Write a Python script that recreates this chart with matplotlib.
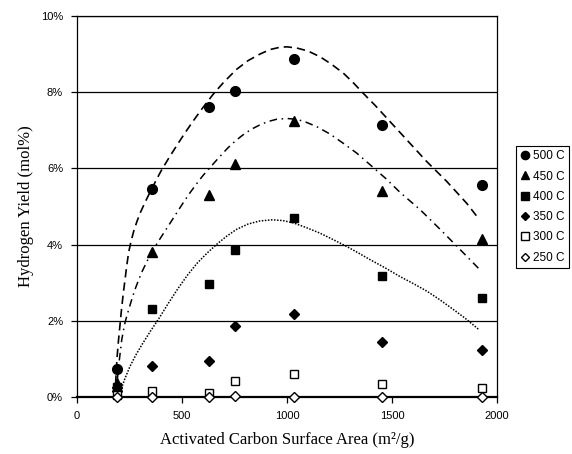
import matplotlib
matplotlib.use("Agg")
import matplotlib.pyplot as plt
from matplotlib.ticker import FuncFormatter, MultipleLocator

# surface area of the carbon samples (m2/g)
surface_area = [190, 358, 627, 752, 1033, 1452, 1930]

# hydrogen yield (mol%) per reactor temperature
yield_500 = [0.73, 5.45, 7.62, 8.04, 8.87, 7.13, 5.56]
yield_450 = [0.36, 3.81, 5.30, 6.12, 7.25, 5.41, 4.15]
yield_400 = [0.25, 2.30, 2.96, 3.86, 4.69, 3.18, 2.61]
yield_350 = [0.15, 0.82, 0.95, 1.86, 2.17, 1.44, 1.23]
yield_300 = [0.05, 0.16, 0.11, 0.43, 0.60, 0.33, 0.23]
yield_250 = [0.00, 0.00, 0.00, 0.02, 0.01, 0.00, 0.00]

# fitted trend curves
trend_500_x = [181, 186, 191, 197, 204, 212, 220, 228, 237, 246, 258, 270, 285, 300,
               325, 350, 375, 400, 437, 475, 514, 554, 600, 649, 700, 760, 815, 871,
               920, 967, 1000, 1046, 1100, 1157, 1210, 1268, 1315, 1363, 1420, 1475,
               1570, 1665, 1760, 1856, 1911]
trend_500_y = [0.0, 0.6, 1.05, 1.45, 1.85, 2.3, 2.7, 3.05, 3.45, 3.8, 4.1, 4.35,
               4.6, 4.82, 5.12, 5.4, 5.67, 5.93, 6.27, 6.6, 6.93, 7.25, 7.6, 7.95,
               8.27, 8.6, 8.83, 9.0, 9.12, 9.18, 9.19, 9.16, 9.08, 8.93, 8.74, 8.50,
               8.25, 7.97, 7.65, 7.32, 6.75, 6.18, 5.66, 5.08, 4.69]
trend_450_x = [189, 193, 200, 207, 213, 221, 229, 240, 252, 264, 276, 292, 308, 328,
               348, 372, 395, 422, 450, 478, 506, 538, 570, 601, 633, 662, 690, 717,
               744, 772, 800, 835, 870, 910, 951, 999, 1040, 1078, 1140, 1205, 1270,
               1332, 1411, 1475, 1538, 1633, 1729, 1824, 1911]
trend_450_y = [0.0, 0.5, 0.9, 1.22, 1.5, 1.74, 1.96, 2.18, 2.4, 2.62, 2.82, 3.05,
               3.27, 3.5, 3.72, 3.95, 4.15, 4.38, 4.62, 4.86, 5.1, 5.36, 5.6, 5.82,
               6.02, 6.2, 6.37, 6.53, 6.67, 6.8, 6.92, 7.04, 7.14, 7.23, 7.29, 7.31,
               7.29, 7.24, 7.1, 6.9, 6.65, 6.40, 6.02, 5.71, 5.37, 4.92, 4.40, 3.87,
               3.38]
trend_400_x = [193, 205, 228, 252, 280, 310, 350, 390, 435, 480, 525, 570, 620, 670,
               715, 760, 815, 870, 930, 980, 1030, 1090, 1157, 1220, 1284, 1340,
               1400, 1470, 1538, 1600, 1665, 1720, 1776, 1845, 1911]
trend_400_y = [0.0, 0.12, 0.48, 0.8, 1.1, 1.38, 1.73, 2.06, 2.46, 2.84, 3.19, 3.5,
               3.78, 4.03, 4.23, 4.40, 4.54, 4.62, 4.65, 4.63, 4.57, 4.45, 4.30,
               4.13, 3.95, 3.78, 3.59, 3.38, 3.16, 2.98, 2.78, 2.58, 2.36, 2.08, 1.78]

fig = plt.figure(figsize=(5.72, 4.54), dpi=100)
ax = fig.add_axes([0.1346, 0.1256, 0.7344, 0.8392])

# trend lines
ax.plot(trend_500_x, [v / 100 for v in trend_500_y], color="black", lw=1.2,
        linestyle=(0, (5, 3)))
ax.plot(trend_450_x, [v / 100 for v in trend_450_y], color="black", lw=1.1,
        linestyle=(0, (5, 3, 1, 3)))
ax.plot(trend_400_x, [v / 100 for v in trend_400_y], color="black", lw=1.1,
        linestyle=(0, (1, 1)))

# data points
series = [
    (yield_500, "o", "black", "500 C", 7.0),
    (yield_450, "^", "black", "450 C", 7.0),
    (yield_400, "s", "black", "400 C", 6.0),
    (yield_350, "D", "black", "350 C", 5.0),
    (yield_300, "s", "white", "300 C", 6.0),
    (yield_250, "D", "white", "250 C", 5.0),
]
handles = []
for values, marker, face, label, size in series:
    h, = ax.plot(surface_area, [v / 100 for v in values], linestyle="none",
                 marker=marker, markerfacecolor=face, markeredgecolor="black",
                 markeredgewidth=1.0, markersize=size, label=label, clip_on=False,
                 zorder=5)
    handles.append(h)

ax.set_xlim(0, 2000)
ax.set_ylim(0, 0.10)
ax.xaxis.set_major_locator(MultipleLocator(500))
ax.yaxis.set_major_locator(MultipleLocator(0.02))
ax.yaxis.set_major_formatter(FuncFormatter(lambda v, p: f"{v * 100:.0f}%"))
ax.grid(axis="y", color="black", lw=0.9)
ax.set_axisbelow(True)

for side in ["left", "top", "right"]:
    ax.spines[side].set_linewidth(0.9)
ax.spines["bottom"].set_linewidth(1.6)
ax.tick_params(direction="out", length=4, width=0.9, labelsize=8, pad=6)
for lab in ax.get_xticklabels() + ax.get_yticklabels():
    lab.set_fontfamily("Liberation Sans")

ax.set_xlabel("Activated Carbon Surface Area (m²/g)", fontsize=12,
              family="Liberation Serif", labelpad=8)
ax.set_ylabel("Hydrogen Yield (mol%)", fontsize=12, family="Liberation Serif",
              labelpad=5)

leg = fig.legend(handles=handles, loc="upper left", bbox_to_anchor=(0.902, 0.678),
                 frameon=True, fancybox=False, edgecolor="black", framealpha=1,
                 prop={"family": "Liberation Sans", "size": 8.5}, handlelength=0.8,
                 handletextpad=0.3, labelspacing=0.7, borderpad=0.35,
                 borderaxespad=0, markerscale=0.85)
leg.get_frame().set_linewidth(0.8)

fig.savefig("out.png", dpi=100)
